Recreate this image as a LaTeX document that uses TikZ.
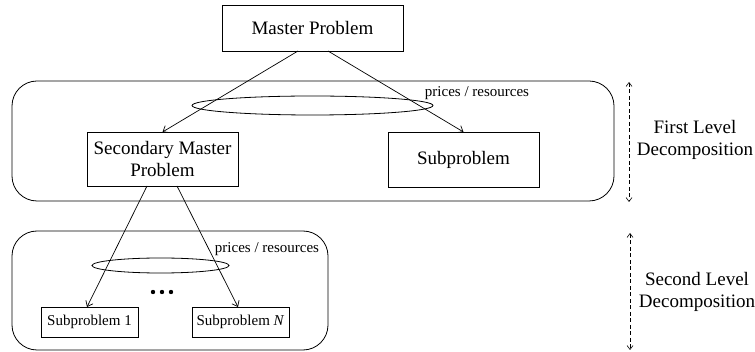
\documentclass[tikz,border=0pt]{standalone}
\usepackage{fontspec}
\setmainfont{Liberation Serif}
\usetikzlibrary{arrows.meta,shapes.geometric}
\begin{document}
\begin{tikzpicture}[x=1pt,y=-1pt,
  every node/.style={inner sep=0pt,outer sep=0pt},
  pbox/.style={draw,line width=0.8pt,rectangle,align=center,font=\fontsize{19}{22}\selectfont},
  sbox/.style={draw,line width=0.8pt,rectangle,align=center,font=\fontsize{15}{18}\selectfont,minimum width=97pt,minimum height=30pt},
  group/.style={draw,line width=0.8pt,rounded corners=25pt},
  ring/.style={draw,line width=0.8pt,ellipse},
  conn/.style={line width=0.7pt,-{Straight Barb[length=5pt,width=8pt]}},
  level/.style={line width=0.6pt,dash pattern=on 4pt off 2.5pt,{Straight Barb[length=4pt,width=6pt]}-{Straight Barb[length=4pt,width=6pt]}},
  small/.style={font=\fontsize{15}{18}\selectfont},
  big/.style={align=center,font=\fontsize{19}{22}\selectfont}]
\useasboundingbox (0,0) rectangle (755,352);
% groups
\node[group,minimum width=602pt,minimum height=120pt] (g1) at (313,141) {};
\node[group,minimum width=316pt,minimum height=119pt] (g2) at (170,290.5) {};
% ellipses
\node[ring,minimum width=241pt,minimum height=19pt] (e1) at (312.5,105.5) {};
\node[ring,minimum width=137pt,minimum height=15pt] (e2) at (160.5,265.5) {};
% boxes
\node[pbox,minimum width=181pt,minimum height=46pt] (mp) at (312.5,28) {Master Problem};
\node[pbox,minimum width=151pt,minimum height=54pt] (sm) at (162.5,159) {Secondary Master\\Problem};
\node[pbox,minimum width=151pt,minimum height=55pt] (sp) at (463.5,159.5) {Subproblem};
\node[sbox] (s1) at (89.5,322) {Subproblem 1};
\node[sbox] (sn) at (240.5,322) {Subproblem \textit{N}};
% labels
\node[small] (l1) at (477,93) {prices / resources};
\node[small] (l2) at (267,249) {prices / resources};
\node[big] (t1) at (695,140) {First Level\\Decomposition};
\node[big] (t2) at (697,292) {Second Level\\Decomposition};
% dots
\fill (153,292) circle[radius=2.2pt] (162,292) circle[radius=2.2pt] (171,292) circle[radius=2.2pt];
% connectors
\draw[conn] ([xshift=-14.5pt]mp.south) -- (sm.north);
\draw[conn] ([xshift=15.5pt]mp.south) -- (sp.north);
\draw[conn] ([xshift=-15.5pt]sm.south) -- ([xshift=-2.5pt]s1.north);
\draw[conn] ([xshift=14.5pt]sm.south) -- ([xshift=-2.5pt]sn.north);
% level arrows
\coordinate (a1) at (629,82);
\coordinate (b1) at (629,202);
\coordinate (a2) at (630,233);
\coordinate (b2) at (630,350);
\draw[level] (a1) -- (b1);
\draw[level] (a2) -- (b2);
\end{tikzpicture}
\end{document}
